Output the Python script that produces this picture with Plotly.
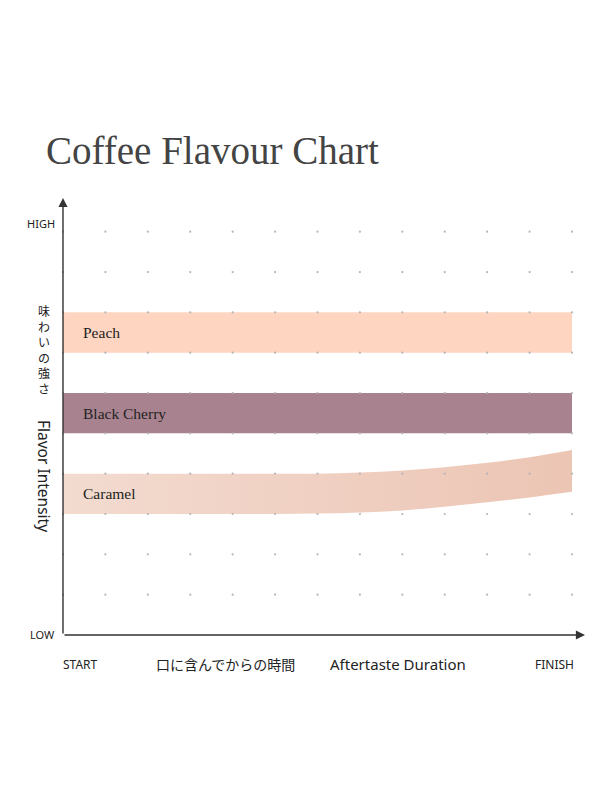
import numpy as np
import plotly.graph_objects as go

# data (time steps 0..12 along the aftertaste axis, intensity 0..10)
time = [0, 1, 2, 3, 4, 5, 6, 7, 8, 9, 10, 11, 12]

peach_low = [7, 7, 7, 7, 7, 7, 7, 7, 7, 7, 7, 7, 7]
peach_high = [8, 8, 8, 8, 8, 8, 8, 8, 8, 8, 8, 8, 8]

cherry_low = [5, 5, 5, 5, 5, 5, 5, 5, 5, 5, 5, 5, 5]
cherry_high = [6, 6, 6, 6, 6, 6, 6, 6, 6, 6, 6, 6, 6]

caramel_low = [3, 3, 3, 3, 3, 3, 3.01, 3.04, 3.09, 3.18, 3.29, 3.41, 3.55]
caramel_high = [4, 4, 4, 4, 4, 4, 4.0, 4.03, 4.08, 4.16, 4.27, 4.41, 4.59]

flavours = ["Peach", "Black Cherry", "Caramel"]

# page offset of the plot div (body margin)
OFF = 8

# screen-pixel layout of the plotting grid
X0, X12 = 63, 572
Y0, Y10 = 635, 231.7
W, H = 600, 800
xs = (X12 - X0) / 12
ys = (Y0 - Y10) / 10
x_range = [-(X0 - OFF) / xs, (W - (X0 - OFF)) / xs]
y_range = [-(H - (Y0 - OFF)) / ys, (Y0 - OFF) / ys]


def px(x):
    return (x - OFF) / W


def py(y):
    return 1 - (y - OFF) / H


fig = go.Figure()

# Peach band
fig.add_trace(go.Scatter(x=time, y=peach_low, mode="lines", line=dict(width=0),
                         hoverinfo="skip", showlegend=False))
fig.add_trace(go.Scatter(x=time, y=peach_high, mode="lines", line=dict(width=0),
                         fill="tonexty", fillcolor="#fed5c0",
                         name="Peach", showlegend=False))

# Black cherry band
fig.add_trace(go.Scatter(x=time, y=cherry_low, mode="lines", line=dict(width=0),
                         hoverinfo="skip", showlegend=False))
fig.add_trace(go.Scatter(x=time, y=cherry_high, mode="lines", line=dict(width=0),
                         fill="tonexty", fillcolor="#a8828f",
                         name="Black Cherry", showlegend=False))

# Caramel band (gradient, rising at the end)
fig.add_trace(go.Scatter(x=time, y=caramel_low, mode="lines", line=dict(width=0, shape="spline"),
                         hoverinfo="skip", showlegend=False))
fig.add_trace(go.Scatter(x=time, y=caramel_high, mode="lines", line=dict(width=0, shape="spline"),
                         fill="tonexty",
                         fillgradient=dict(type="horizontal",
                                           colorscale=[[0, "#f3dbd0"], [1, "#ecc5b4"]]),
                         name="Caramel", showlegend=False))

# dotted grid
gx, gy = np.meshgrid(np.arange(0, 13), np.arange(1, 11))
fig.add_trace(go.Scatter(x=gx.ravel(), y=gy.ravel(), mode="markers",
                         marker=dict(size=2.2, color="#b5b5b5"),
                         hoverinfo="skip", showlegend=False))

ann = []

# title
ann.append(dict(x=px(44), y=py(150), xref="paper", yref="paper", text="Coffee Flavour Chart",
                showarrow=False, xanchor="left", yanchor="middle",
                font=dict(family="Liberation Serif", size=39, color="#444444")))

# band labels
for name, yy in zip(flavours, [7.5, 5.5, 3.5]):
    ann.append(dict(x=0.42, y=yy, xref="x", yref="y", text=name, showarrow=False,
                    xanchor="left", yanchor="middle",
                    font=dict(family="Liberation Serif", size=15.5, color="#222222")))

# axes with arrow heads
ann.append(dict(x=px(X0), y=py(198), xref="paper", yref="paper", ax=0, ay=Y0 - 198,
                showarrow=True, arrowhead=2, arrowsize=1.3, arrowwidth=1.4,
                arrowcolor="#333333", text=""))
ann.append(dict(x=px(585), y=py(Y0), xref="paper", yref="paper", ax=-(585 - X0), ay=0,
                showarrow=True, arrowhead=2, arrowsize=1.3, arrowwidth=1.4,
                arrowcolor="#333333", text=""))

sans = "Noto Sans"
small = dict(family=sans, size=11, color="#222222")
ann.append(dict(x=px(57), y=py(223), xref="paper", yref="paper", text="HIGH",
                showarrow=False, xanchor="right", yanchor="middle", font=small))
ann.append(dict(x=px(57), y=py(634), xref="paper", yref="paper", text="LOW",
                showarrow=False, xanchor="right", yanchor="middle", font=small))
ann.append(dict(x=px(80.5), y=py(664), xref="paper", yref="paper", text="START",
                showarrow=False, xanchor="center", yanchor="middle",
                font=dict(family=sans, size=12, color="#222222")))
ann.append(dict(x=px(554), y=py(664), xref="paper", yref="paper", text="FINISH",
                showarrow=False, xanchor="center", yanchor="middle",
                font=dict(family=sans, size=12, color="#222222")))
ann.append(dict(x=px(225.5), y=py(664), xref="paper", yref="paper", text="口に含んでからの時間",
                showarrow=False, xanchor="center", yanchor="middle",
                font=dict(family="Noto Sans CJK JP", size=14, color="#222222")))
ann.append(dict(x=px(397.5), y=py(664), xref="paper", yref="paper", text="Aftertaste Duration",
                showarrow=False, xanchor="center", yanchor="middle",
                font=dict(family=sans, size=15, color="#222222")))

# vertical japanese label, one character per line
ann.append(dict(x=px(44), y=py(349), xref="paper", yref="paper",
                text="<br>".join("味わいの強さ"),
                showarrow=False, xanchor="center", yanchor="middle",
                font=dict(family="Noto Sans CJK JP", size=12, color="#222222")))

ann.append(dict(x=px(44), y=py(476), xref="paper", yref="paper", text="Flavor Intensity",
                showarrow=False, textangle=90, xanchor="center", yanchor="middle",
                font=dict(family=sans, size=15.5, color="#222222")))

fig.update_layout(
    width=W, height=H,
    margin=dict(l=0, r=0, t=0, b=0),
    paper_bgcolor="white", plot_bgcolor="white",
    xaxis=dict(range=x_range, domain=[0, 1], visible=False, fixedrange=True),
    yaxis=dict(range=y_range, domain=[0, 1], visible=False, fixedrange=True),
    annotations=ann,
    showlegend=False,
)

fig.write_html("out.html")
